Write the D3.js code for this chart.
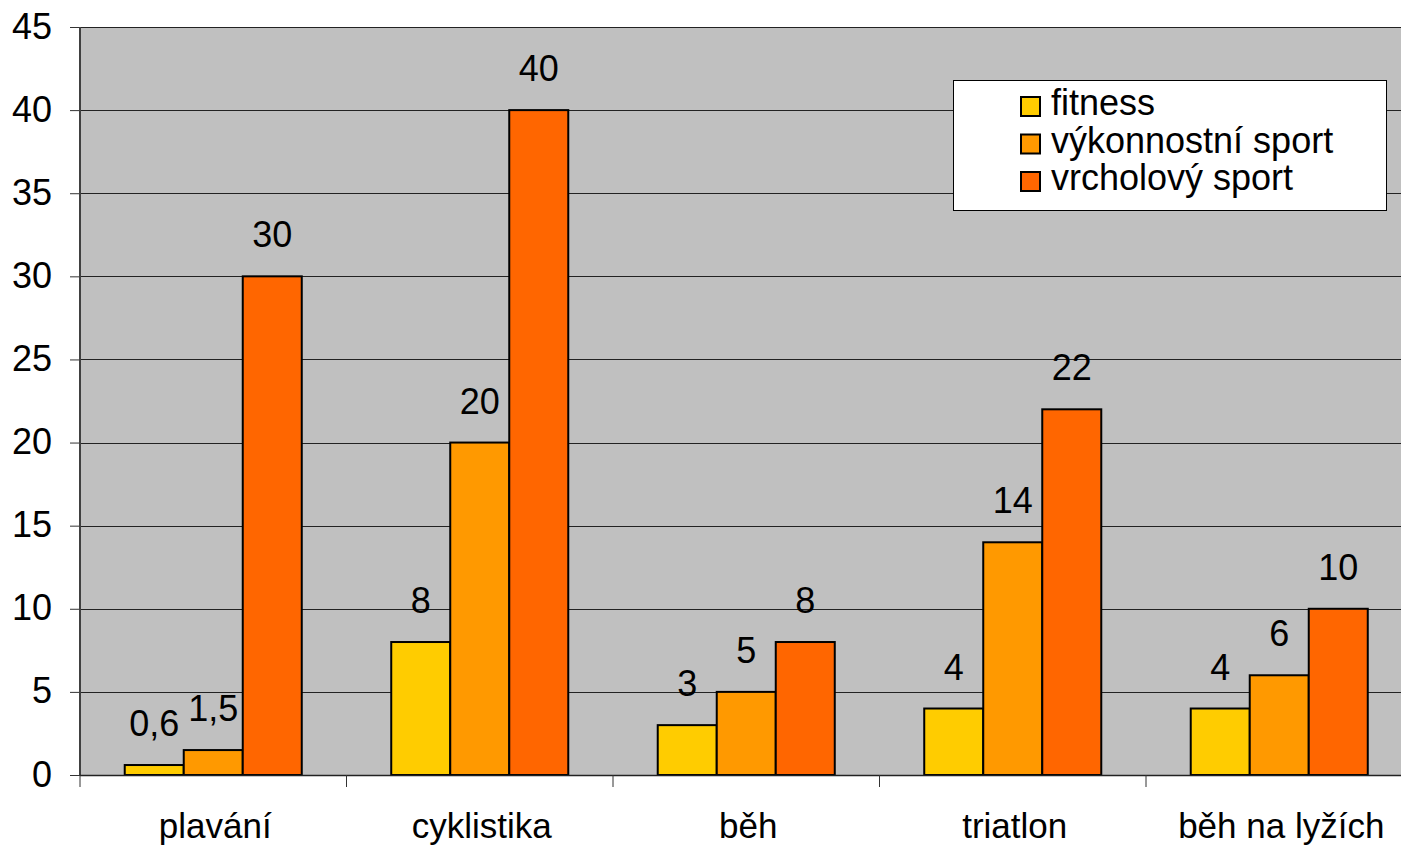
<!DOCTYPE html>
<html>
<head>
<meta charset="utf-8">
<script src="https://cdn.jsdelivr.net/npm/d3@7"></script>
<style>
  html, body { margin: 0; padding: 0; background: #fff; }
  svg { display: block; }
  text { font-family: "Liberation Sans", Arial, sans-serif; fill: #000; }
</style>
</head>
<body>
<svg id="chart" width="1401" height="846"></svg>
<script>
// Categories (sports) and series (training level)
const categories = ["plavání", "cyklistika", "běh", "triatlon", "běh na lyžích"];
const seriesNames = ["fitness", "výkonnostní sport", "vrcholový sport"];
const fitness = [0.6, 8, 3, 4, 4];
const vykonnostni = [1.5, 20, 5, 14, 6];
const vrcholovy = [30, 40, 8, 22, 10];
const seriesValues = [fitness, vykonnostni, vrcholovy];
const seriesColors = ["#FFCC00", "#FF9900", "#FF6600"];
const yTicks = [0, 5, 10, 15, 20, 25, 30, 35, 40, 45];

const svg = d3.select("#chart");
const plot = { left: 80, top: 27, bottom: 775, groupWidth: 266.5 };
const plotRight = plot.left + plot.groupWidth * categories.length;

const y = d3.scaleLinear().domain([0, 45]).range([plot.bottom, plot.top]);
const x = d3.scaleBand().domain(categories).range([plot.left, plotRight]);
const xSub = d3.scaleBand().domain(seriesNames).range([0, x.bandwidth()])
  .paddingInner(0).paddingOuter(0.758);

const fmt = v => String(v).replace(".", ",");

// plot background
svg.append("rect")
  .attr("x", plot.left).attr("y", plot.top)
  .attr("width", plotRight - plot.left).attr("height", plot.bottom - plot.top)
  .attr("fill", "#C0C0C0");

// tick marks and labels of the value axis
const yAxis = d3.axisLeft(y).tickValues(yTicks)
  .tickSize(plot.left - 70).tickSizeOuter(0).tickFormat(d3.format("d"));
const ya = svg.append("g").attr("transform", `translate(${plot.left},0)`).call(yAxis);
ya.select(".domain").remove();
ya.selectAll(".tick line").attr("stroke", "#333").attr("stroke-width", 1);
ya.selectAll(".tick text")
  .attr("x", 52 - plot.left).attr("dy", null).attr("y", 11)
  .attr("text-anchor", "end")
  .style("font-size", "36px").style("font-family", '"Liberation Sans", Arial, sans-serif');

// horizontal gridlines
svg.append("g").selectAll("line.grid").data(yTicks.filter(d => d > 0)).join("line")
  .attr("x1", plot.left).attr("x2", plotRight)
  .attr("y1", d => Math.round(y(d)) + 0.5).attr("y2", d => Math.round(y(d)) + 0.5)
  .attr("stroke", "#222").attr("stroke-width", 1);

// bars with value labels
const groups = svg.append("g").selectAll("g").data(categories).join("g")
  .attr("transform", d => `translate(${x(d)},0)`);

groups.each(function(cat, ci) {
  const g = d3.select(this);
  seriesNames.forEach((s, si) => {
    const v = seriesValues[si][ci];
    g.append("rect")
      .attr("x", xSub(s)).attr("y", y(v))
      .attr("width", xSub.bandwidth()).attr("height", y(0) - y(v))
      .attr("fill", seriesColors[si])
      .attr("stroke", "#000").attr("stroke-width", 2);
    g.append("text")
      .attr("x", xSub(s) + xSub.bandwidth() / 2)
      .attr("y", y(v) - 29)
      .attr("text-anchor", "middle")
      .style("font-size", "36px")
      .text(fmt(v));
  });
});

// left axis line
svg.append("line")
  .attr("x1", plot.left).attr("x2", plot.left)
  .attr("y1", plot.top).attr("y2", plot.bottom)
  .attr("stroke", "#404040").attr("stroke-width", 2);

// category axis with labels
svg.append("line")
  .attr("x1", plot.left).attr("x2", plotRight)
  .attr("y1", plot.bottom + 0.5).attr("y2", plot.bottom + 0.5)
  .attr("stroke", "#222").attr("stroke-width", 1.5);
svg.append("g").selectAll("line").data(d3.range(categories.length + 1)).join("line")
  .attr("x1", i => plot.left + i * plot.groupWidth).attr("x2", i => plot.left + i * plot.groupWidth)
  .attr("y1", plot.bottom).attr("y2", plot.bottom + 12)
  .attr("stroke", "#333").attr("stroke-width", 1);
svg.append("g").selectAll("text").data(categories).join("text")
  .attr("x", d => x(d) + x.bandwidth() / 2 + 2)
  .attr("y", 838)
  .attr("text-anchor", "middle")
  .style("font-size", "35px")
  .text(d => d);

// legend
const legend = svg.append("g");
legend.append("rect")
  .attr("x", 953.5).attr("y", 80.5).attr("width", 433).attr("height", 130)
  .attr("fill", "#fff").attr("stroke", "#000").attr("stroke-width", 1);
const rows = legend.selectAll("g").data(seriesNames).join("g")
  .attr("transform", (d, i) => `translate(0,${i * 37.5})`);
rows.append("rect")
  .attr("x", 1021).attr("y", 97).attr("width", 19).attr("height", 19)
  .attr("fill", (d, i) => seriesColors[i])
  .attr("stroke", "#000").attr("stroke-width", 2);
rows.append("text")
  .attr("x", 1051).attr("y", 115)
  .style("font-size", "36px")
  .text(d => d);
</script>
</body>
</html>
